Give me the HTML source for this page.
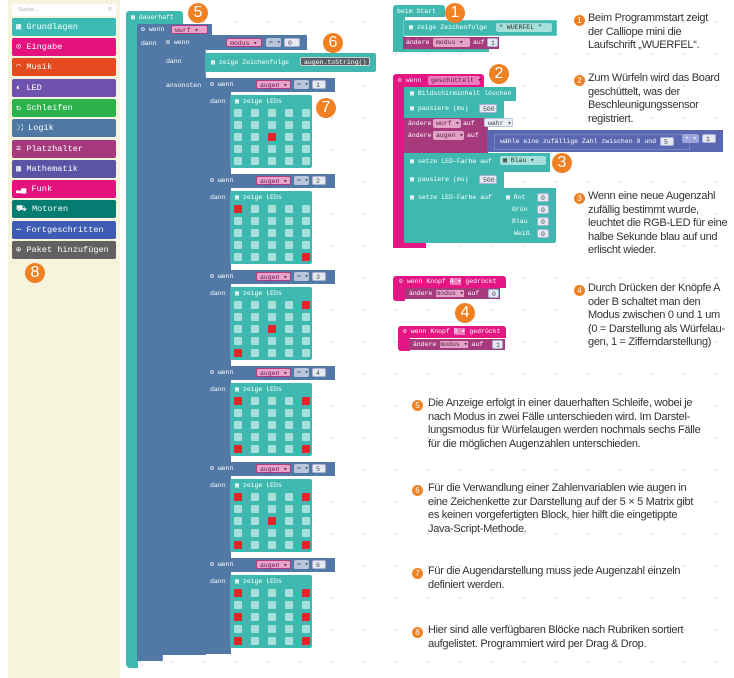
<!DOCTYPE html>
<html><head><meta charset="utf-8"><style>
*{margin:0;padding:0;box-sizing:border-box}
body{width:734px;height:678px;background:#fff;position:relative;overflow:hidden;font-family:"Liberation Mono",monospace}
.a{position:absolute}
.bg{background-image:radial-gradient(circle,#dfe3e8 0.8px,transparent 1.2px);background-size:32px 32px;background-position:4px 6px}
.side{left:8px;top:0;width:112px;height:678px;background:#f6f4dd}
.cat{position:absolute;left:4px;width:104px;height:18px;border-radius:2px;color:#fff;font-size:8.6px;line-height:18px;padding-left:4px;white-space:nowrap;overflow:hidden}
.t{color:#fff;font-size:6.5px;line-height:1;white-space:nowrap}
.teal{background:#3fb9b0}
.blue{background:#5279a6}
.mag{background:#a63a7c}
.pk{background:#e31683}
.pill{position:absolute;height:9px;border-radius:2px;font-size:6.5px;line-height:9px;padding:0 3px;white-space:nowrap}
.vp{background:#e7a3c9;color:#6a1a4b;border:1.5px solid #b13a81}
.num{background:#e6e8f2;color:#445;border:1.5px solid #aab2d8}
.op{background:#b7c6da;color:#456;}
.c{position:absolute;width:20px;height:20px;border-radius:50%;background:#ef8123;color:#fff;font-family:"Liberation Sans",sans-serif;font-size:16px;line-height:20px;text-align:center}
.sc{position:absolute;width:11px;height:11px;border-radius:50%;background:#ef8123;color:#fff;font-family:"Liberation Sans",sans-serif;font-size:8px;line-height:11px;text-align:center}
.tx{position:absolute;font-family:"Liberation Sans",sans-serif;font-size:11px;line-height:13.6px;color:#333;letter-spacing:-.3px;white-space:nowrap}
.led{position:absolute;width:82px;height:73px;background:#3fb9b0;border-radius:2px}
.led .g{position:absolute;left:4px;top:14px;width:76px;display:grid;grid-template-columns:repeat(5,8px);column-gap:9px;row-gap:4px}
.led .g i{display:block;width:8px;height:8px;background:#a6e0da;border-radius:1px}
.led .g i.r{background:#e8232a}
.led .h{position:absolute;left:5px;top:4px}
</style></head><body>
<div class="a bg" style="left:120px;top:0;width:614px;height:678px"></div>

<div class="a side">
<div class="a" style="left:4px;top:4px;width:104px;height:12px;background:#fff;font-family:'Liberation Sans',sans-serif;font-size:5.5px;color:#aaa;line-height:12px;padding-left:6px">Suche...<span style="position:absolute;right:4px">&#9906;</span></div>
<div class="cat" style="top:18px;background:#3cbbb5">▦ Grundlagen</div>
<div class="cat" style="top:38px;background:#e3127e">⊙ Eingabe</div>
<div class="cat" style="top:58px;background:#e6481f">◠ Musik</div>
<div class="cat" style="top:79px;background:#6e52ae">◐ LED</div>
<div class="cat" style="top:99px;background:#2bb24c">↻ Schleifen</div>
<div class="cat" style="top:119px;background:#4e78a3">⤨ Logik</div>
<div class="cat" style="top:140px;background:#a6397b">≡ Platzhalter</div>
<div class="cat" style="top:160px;background:#5b53a4">▦ Mathematik</div>
<div class="cat" style="top:180px;background:#e3127e">▂▄ Funk</div>
<div class="cat" style="top:200px;background:#047c71">⛟ Motoren</div>
<div class="cat" style="top:221px;background:#3e5cb5">⋯ Fortgeschritten</div>
<div class="cat" style="top:241px;background:#616161">⊕ Paket hinzufügen</div>
</div>
<div class="c" style="left:25px;top:263px">8</div>

<div class="a teal" style="left:126px;top:11px;width:57px;height:14px;border-radius:3px 3px 0 0"></div>
<div class="a t" style="left:131px;top:15px">▦ dauerhaft</div>
<div class="a teal" style="left:126px;top:24px;width:12px;height:644px;border-radius:0 0 0 4px"></div>
<div class="a blue" style="left:137px;top:24px;width:75px;height:12px"></div>
<div class="a blue" style="left:137px;top:35px;width:26px;height:626px;border-right:1px solid #6b8fb8"></div>
<div class="a t" style="left:141px;top:27px">⚙ wenn</div>
<div class="pill vp" style="left:171px;top:25px;width:37px">wurf ▾</div>
<div class="a t" style="left:141px;top:41px">dann</div>
<div class="a blue" style="left:162px;top:35px;width:145px;height:15px"></div>
<div class="a blue" style="left:162px;top:49px;width:44px;height:606px;border-right:1px solid #6b8fb8"></div>
<div class="a t" style="left:166px;top:40px">⚙ wenn</div>
<div class="pill vp" style="left:226px;top:38px;width:36px">modus ▾</div>
<div class="pill op" style="left:266px;top:38px;width:15px">= ▾</div>
<div class="pill num" style="left:284px;top:38px;width:16px">0</div>
<div class="a t" style="left:166px;top:59px">dann</div>
<div class="a t" style="left:166px;top:83px">ansonsten</div>
<div class="a teal" style="left:205px;top:53px;width:171px;height:19px;border-radius:2px"></div>
<div class="a t" style="left:211px;top:60px">▦ zeige Zeichenfolge</div>
<div class="pill" style="left:300px;top:57px;width:70px;background:#575e66;color:#fff;border:1px solid #ccc">augen.toString()</div>

<div class="a blue" style="left:205px;top:78px;width:26px;height:576px"></div>

<div class="a blue" style="left:205px;top:78px;width:130px;height:14px"></div>
<div class="a t" style="left:210px;top:82px">⚙ wenn</div><div class="a t" style="left:210px;top:99px">dann</div>
<div class="pill vp" style="left:256px;top:80px;width:35px">augen ▾</div><div class="pill op" style="left:294px;top:80px;width:15px">= ▾</div><div class="pill num" style="left:312px;top:80px;width:14px">1</div>
<div class="led" style="left:230px;top:95px"><div class="h t">▦ zeige LEDs</div><div class="g"><i></i><i></i><i></i><i></i><i></i><i></i><i></i><i></i><i></i><i></i><i></i><i></i><i class="r"></i><i></i><i></i><i></i><i></i><i></i><i></i><i></i><i></i><i></i><i></i><i></i><i></i></div></div>

<div class="a blue" style="left:205px;top:174px;width:130px;height:14px"></div>
<div class="a t" style="left:210px;top:178px">⚙ wenn</div><div class="a t" style="left:210px;top:195px">dann</div>
<div class="pill vp" style="left:256px;top:176px;width:35px">augen ▾</div><div class="pill op" style="left:294px;top:176px;width:15px">= ▾</div><div class="pill num" style="left:312px;top:176px;width:14px">2</div>
<div class="led" style="left:230px;top:191px"><div class="h t">▦ zeige LEDs</div><div class="g"><i class="r"></i><i></i><i></i><i></i><i></i><i></i><i></i><i></i><i></i><i></i><i></i><i></i><i></i><i></i><i></i><i></i><i></i><i></i><i></i><i></i><i></i><i></i><i></i><i></i><i class="r"></i></div></div>

<div class="a blue" style="left:205px;top:270px;width:130px;height:14px"></div>
<div class="a t" style="left:210px;top:274px">⚙ wenn</div><div class="a t" style="left:210px;top:291px">dann</div>
<div class="pill vp" style="left:256px;top:272px;width:35px">augen ▾</div><div class="pill op" style="left:294px;top:272px;width:15px">= ▾</div><div class="pill num" style="left:312px;top:272px;width:14px">3</div>
<div class="led" style="left:230px;top:287px"><div class="h t">▦ zeige LEDs</div><div class="g"><i></i><i></i><i></i><i></i><i class="r"></i><i></i><i></i><i></i><i></i><i></i><i></i><i></i><i class="r"></i><i></i><i></i><i></i><i></i><i></i><i></i><i></i><i class="r"></i><i></i><i></i><i></i><i></i></div></div>

<div class="a blue" style="left:205px;top:366px;width:130px;height:14px"></div>
<div class="a t" style="left:210px;top:370px">⚙ wenn</div><div class="a t" style="left:210px;top:387px">dann</div>
<div class="pill vp" style="left:256px;top:368px;width:35px">augen ▾</div><div class="pill op" style="left:294px;top:368px;width:15px">= ▾</div><div class="pill num" style="left:312px;top:368px;width:14px">4</div>
<div class="led" style="left:230px;top:383px"><div class="h t">▦ zeige LEDs</div><div class="g"><i class="r"></i><i></i><i></i><i></i><i class="r"></i><i></i><i></i><i></i><i></i><i></i><i></i><i></i><i></i><i></i><i></i><i></i><i></i><i></i><i></i><i></i><i class="r"></i><i></i><i></i><i></i><i class="r"></i></div></div>

<div class="a blue" style="left:205px;top:462px;width:130px;height:14px"></div>
<div class="a t" style="left:210px;top:466px">⚙ wenn</div><div class="a t" style="left:210px;top:483px">dann</div>
<div class="pill vp" style="left:256px;top:464px;width:35px">augen ▾</div><div class="pill op" style="left:294px;top:464px;width:15px">= ▾</div><div class="pill num" style="left:312px;top:464px;width:14px">5</div>
<div class="led" style="left:230px;top:479px"><div class="h t">▦ zeige LEDs</div><div class="g"><i class="r"></i><i></i><i></i><i></i><i class="r"></i><i></i><i></i><i></i><i></i><i></i><i></i><i></i><i class="r"></i><i></i><i></i><i></i><i></i><i></i><i></i><i></i><i class="r"></i><i></i><i></i><i></i><i class="r"></i></div></div>

<div class="a blue" style="left:205px;top:558px;width:130px;height:14px"></div>
<div class="a t" style="left:210px;top:562px">⚙ wenn</div><div class="a t" style="left:210px;top:579px">dann</div>
<div class="pill vp" style="left:256px;top:560px;width:35px">augen ▾</div><div class="pill op" style="left:294px;top:560px;width:15px">= ▾</div><div class="pill num" style="left:312px;top:560px;width:14px">6</div>
<div class="led" style="left:230px;top:575px"><div class="h t">▦ zeige LEDs</div><div class="g"><i class="r"></i><i></i><i></i><i></i><i class="r"></i><i></i><i></i><i></i><i></i><i></i><i class="r"></i><i></i><i></i><i></i><i class="r"></i><i></i><i></i><i></i><i></i><i></i><i class="r"></i><i></i><i></i><i></i><i class="r"></i></div></div>

<div class="c" style="left:188px;top:3px">5</div>
<div class="c" style="left:323px;top:33px">6</div>
<div class="c" style="left:316px;top:98px">7</div>

<div class="a teal" style="left:393px;top:5px;width:52px;height:12px;border-radius:3px 3px 0 0"></div>
<div class="a teal" style="left:393px;top:16px;width:12px;height:36px;border-radius:0 0 0 3px"></div>
<div class="a teal" style="left:393px;top:44px;width:96px;height:8px"></div>
<div class="a t" style="left:397px;top:9px">beim Start</div>
<div class="a teal" style="left:403px;top:20px;width:154px;height:16px;border:1px solid #69cbc4"></div>
<div class="a t" style="left:409px;top:25px">▦ zeige Zeichenfolge</div>
<div class="pill" style="left:496px;top:23px;width:56px;background:#a6e0da;color:#333">“ WUERFEL ”</div>
<div class="a mag" style="left:403px;top:37px;width:96px;height:12px"></div>
<div class="a t" style="left:406px;top:40px">ändere</div>
<div class="pill" style="left:433px;top:38px;width:37px;background:#e1a3c6;color:#5a1a40">modus ▾</div>
<div class="a t" style="left:473px;top:40px">auf</div>
<div class="pill num" style="left:487px;top:38px;width:11px">1</div>
<div class="c" style="left:445px;top:3px">1</div>

<div class="a pk" style="left:393px;top:74px;width:91px;height:13px;border-radius:3px 3px 0 0"></div>
<div class="a pk" style="left:393px;top:86px;width:12px;height:162px;border-radius:0 0 0 4px"></div>
<div class="a pk" style="left:393px;top:240px;width:33px;height:8px"></div>
<div class="a t" style="left:398px;top:78px">⊙ wenn</div>
<div class="pill" style="left:428px;top:76px;width:52px;background:#f07bbd;color:#5a1a40">geschüttelt ▾</div>
<div class="a teal" style="left:404px;top:87px;width:112px;height:14px"></div>
<div class="a t" style="left:410px;top:91px">▦ Bildschirminhalt löschen</div>
<div class="a teal" style="left:404px;top:101px;width:100px;height:17px"></div>
<div class="a t" style="left:410px;top:106px">▦ pausiere (ms)</div>
<div class="pill num" style="left:479px;top:104px;width:18px">500</div>
<div class="a mag" style="left:404px;top:118px;width:84px;height:35px"></div>
<div class="a t" style="left:408px;top:121px">ändere</div>
<div class="pill" style="left:433px;top:119px;width:28px;background:#e1a3c6;color:#5a1a40">wurf ▾</div>
<div class="a t" style="left:463px;top:121px">auf</div>
<div class="pill" style="left:484px;top:118px;width:29px;background:#e8edf5;color:#445;border:1.5px solid #b7c6da">wahr ▾</div>
<div class="a t" style="left:408px;top:133px">ändere</div>
<div class="pill" style="left:433px;top:131px;width:31px;background:#e1a3c6;color:#5a1a40">augen ▾</div>
<div class="a t" style="left:467px;top:133px">auf</div>
<div class="a" style="left:487px;top:130px;width:236px;height:22px;background:#5a67b1"></div>
<div class="a" style="left:494px;top:134px;width:196px;height:16px;border:1px solid #7b86c6;background:#5a67b1"></div>
<div class="a t" style="left:500px;top:139px">wähle eine zufällige Zahl zwischen 0 und</div>
<div class="pill num" style="left:660px;top:137px;width:14px">5</div>
<div class="pill" style="left:682px;top:134px;width:17px;background:#9ca6dc;color:#fff">+ ▾</div>
<div class="pill num" style="left:702px;top:134px;width:14px">1</div>
<div class="a teal" style="left:404px;top:153px;width:146px;height:19px"></div>
<div class="a t" style="left:410px;top:159px">▦ setze LED-Farbe auf</div>
<div class="pill" style="left:500px;top:156px;width:46px;background:#a6e0da;color:#333">▦ Blau ▾</div>
<div class="a teal" style="left:404px;top:172px;width:100px;height:17px"></div>
<div class="a t" style="left:410px;top:177px">▦ pausiere (ms)</div>
<div class="pill num" style="left:479px;top:175px;width:18px">500</div>
<div class="a teal" style="left:404px;top:188px;width:152px;height:55px;border-radius:0 0 2px 2px"></div>
<div class="a t" style="left:410px;top:195px">▦ setze LED-Farbe auf</div>
<div class="a t" style="left:506px;top:195px">▦ Rot</div>
<div class="a t" style="left:512px;top:207px">Grün</div>
<div class="a t" style="left:512px;top:219px">Blau</div>
<div class="a t" style="left:514px;top:231px">Weiß</div>
<div class="pill num" style="left:537px;top:193px;width:12px">0</div>
<div class="pill num" style="left:537px;top:205px;width:12px">0</div>
<div class="pill num" style="left:537px;top:217px;width:12px">0</div>
<div class="pill num" style="left:537px;top:229px;width:12px">0</div>
<div class="c" style="left:489px;top:64px">2</div>
<div class="c" style="left:552px;top:153px">3</div>

<div class="a pk" style="left:393px;top:276px;width:113px;height:12px;border-radius:3px 3px 0 0"></div>
<div class="a pk" style="left:393px;top:287px;width:12px;height:14px;border-radius:0 0 0 3px"></div>
<div class="a t" style="left:399px;top:279px">⊙ wenn Knopf <span style="background:#f07bbd">A ▾</span> gedrückt</div>
<div class="a mag" style="left:405px;top:288px;width:95px;height:11px"></div>
<div class="a t" style="left:409px;top:291px">ändere <span style="background:#e1a3c6;color:#5a1a40">modus ▾</span> auf</div>
<div class="pill num" style="left:488px;top:289px;width:11px">0</div>
<div class="c" style="left:455px;top:303px">4</div>
<div class="a pk" style="left:398px;top:326px;width:108px;height:12px;border-radius:3px 3px 0 0"></div>
<div class="a pk" style="left:398px;top:337px;width:12px;height:14px;border-radius:0 0 0 3px"></div>
<div class="a t" style="left:403px;top:329px">⊙ wenn Knopf <span style="background:#f07bbd">B ▾</span> gedrückt</div>
<div class="a mag" style="left:409px;top:339px;width:96px;height:11px"></div>
<div class="a t" style="left:413px;top:342px">ändere <span style="background:#e1a3c6;color:#5a1a40">modus ▾</span> auf</div>
<div class="pill num" style="left:492px;top:340px;width:11px">1</div>

<div class="sc" style="left:574px;top:15px">1</div>
<div class="tx" style="left:588px;top:12px">Beim Programmstart zeigt<br>der Calliope mini die<br>Laufschrift „WUERFEL“.</div>
<div class="sc" style="left:574px;top:75px">2</div>
<div class="tx" style="left:588px;top:72px">Zum Würfeln wird das Board<br>geschüttelt, was der<br>Beschleunigungssensor<br>registriert.</div>
<div class="sc" style="left:574px;top:193px">3</div>
<div class="tx" style="left:588px;top:190px">Wenn eine neue Augenzahl<br>zufällig bestimmt wurde,<br>leuchtet die RGB-LED für eine<br>halbe Sekunde blau auf und<br>erlischt wieder.</div>
<div class="sc" style="left:574px;top:285px">4</div>
<div class="tx" style="left:588px;top:282px">Durch Drücken der Knöpfe A<br>oder B schaltet man den<br>Modus zwischen 0 und 1 um<br>(0 = Darstellung als Würfelau-<br>gen, 1 = Zifferndarstellung)</div>
<div class="sc" style="left:412px;top:400px">5</div>
<div class="tx" style="left:428px;top:397px">Die Anzeige erfolgt in einer dauerhaften Schleife, wobei je<br>nach Modus in zwei Fälle unterschieden wird. Im Darstel-<br>lungsmodus für Würfelaugen werden nochmals sechs Fälle<br>für die möglichen Augenzahlen unterschieden.</div>
<div class="sc" style="left:412px;top:485px">6</div>
<div class="tx" style="left:428px;top:482px">Für die Verwandlung einer Zahlenvariablen wie augen in<br>eine Zeichenkette zur Darstellung auf der 5 × 5 Matrix gibt<br>es keinen vorgefertigten Block, hier hilft die eingetippte<br>Java-Script-Methode.</div>
<div class="sc" style="left:412px;top:568px">7</div>
<div class="tx" style="left:428px;top:565px">Für die Augendarstellung muss jede Augenzahl einzeln<br>definiert werden.</div>
<div class="sc" style="left:412px;top:627px">8</div>
<div class="tx" style="left:428px;top:624px">Hier sind alle verfügbaren Blöcke nach Rubriken sortiert<br>aufgelistet. Programmiert wird per Drag &amp; Drop.</div>
</body></html>
